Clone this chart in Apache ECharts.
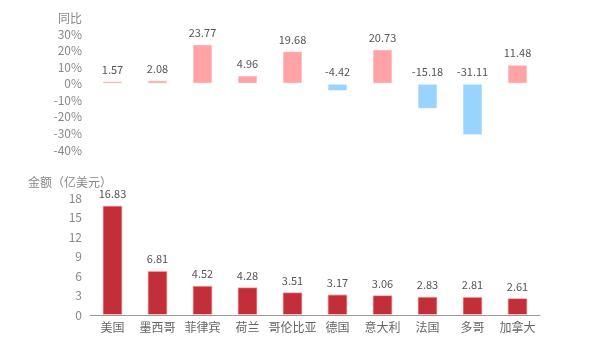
<!DOCTYPE html>
<html><head><meta charset="utf-8">
<script src="https://cdn.jsdelivr.net/npm/echarts@6/dist/echarts.min.js"></script>
<style>html,body{margin:0;padding:0;background:#fff}#c{width:600px;height:350px}</style>
</head><body><div id="c"></div>
<script>
const categories = ['美国','墨西哥','菲律宾','荷兰','哥伦比亚','德国','意大利','法国','多哥','加拿大'];
const amounts = [16.83, 6.81, 4.52, 4.28, 3.51, 3.17, 3.06, 2.83, 2.81, 2.61];
const yoy = [1.57, 2.08, 23.77, 4.96, 19.68, -4.42, 20.73, -15.18, -31.11, 11.48];

const font = '"Noto Sans CJK SC", "Microsoft YaHei", sans-serif';
const chart = echarts.init(document.getElementById('c'), null, {renderer: 'canvas'});
chart.setOption({
  animation: false,
  textStyle: {fontFamily: font},
  grid: [
    {left: 90, right: 60, top: 34, height: 116},
    {left: 90, right: 60, top: 198, height: 117}
  ],
  xAxis: [
    {gridIndex: 0, type: 'category', data: categories, show: false},
    {gridIndex: 1, type: 'category', data: categories,
     axisLine: {lineStyle: {color: '#999'}},
     axisTick: {alignWithLabel: true, lineStyle: {color: '#999'}},
     axisLabel: {color: '#666', fontSize: 12, margin: 6, interval: 0, fontFamily: font}}
  ],
  yAxis: [
    {gridIndex: 0, type: 'value', min: -40, max: 30, interval: 10,
     name: '同比', nameLocation: 'end', nameGap: 10,
     nameTextStyle: {color: '#888', fontSize: 12, align: 'right', padding: [0, 8, 0, 0], fontFamily: font},
     axisLine: {show: false}, axisTick: {show: false}, splitLine: {show: false},
     axisLabel: {color: '#888', fontSize: 12, formatter: '{value}%', margin: 8, fontFamily: font}},
    {gridIndex: 1, type: 'value', min: 0, max: 18, interval: 3,
     name: '金额（亿美元）', nameLocation: 'end', nameGap: 10,
     nameTextStyle: {color: '#888', fontSize: 12, align: 'left', padding: [0, 0, 0, -62], fontFamily: font},
     axisLine: {show: false}, axisTick: {show: false}, splitLine: {show: false},
     axisLabel: {color: '#888', fontSize: 12, margin: 8, fontFamily: font}}
  ],
  series: [
    {type: 'bar', xAxisIndex: 0, yAxisIndex: 0, barWidth: 20,
     data: yoy.map(v => ({value: v, itemStyle: {color: v >= 0 ? '#FFA3A6' : '#99D3FF'}})),
     itemStyle: {borderColor: 'rgba(255,255,255,0.6)', borderWidth: 1},
     label: {show: true, position: 'top', color: '#555', fontSize: 11, distance: 6,
       formatter: p => p.value.toFixed(2)}},
    {type: 'bar', xAxisIndex: 1, yAxisIndex: 1, barWidth: 20,
     data: amounts,
     itemStyle: {color: '#C22F38', borderColor: 'rgba(255,200,200,0.8)', borderWidth: 1},
     label: {show: true, position: 'top', color: '#555', fontSize: 11, distance: 6,
       formatter: p => p.value.toFixed(2)}}
  ]
});
</script></body></html>
